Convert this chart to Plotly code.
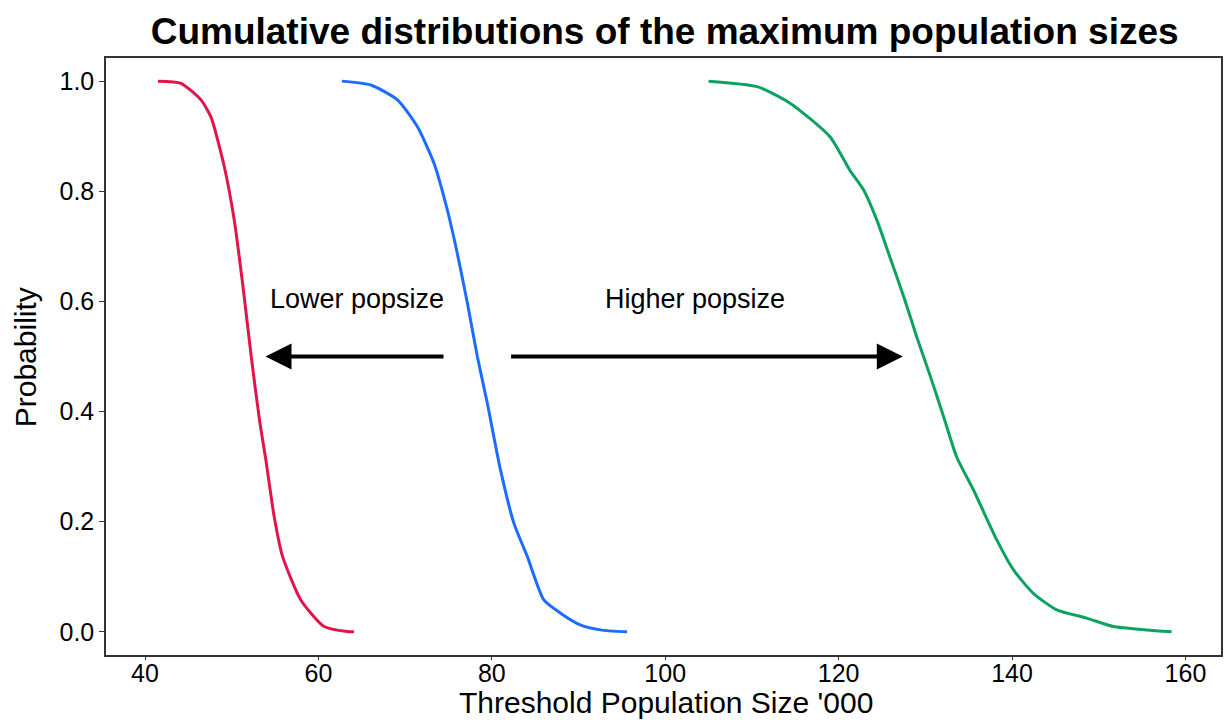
import plotly.graph_objects as go

# Red curve (lower popsize)
red_x = [41.5, 44.15, 46.45, 47.6, 49.14, 50.29, 51.3, 52.25, 53.2, 53.94, 54.9, 55.86, 57.97, 60.66, 63.3, 64.1]
red_y = [1.0, 0.996, 0.966, 0.935, 0.845, 0.748, 0.627, 0.5, 0.385, 0.312, 0.209, 0.137, 0.058, 0.0096, 0.0005, 0.0]

# Blue curve (baseline)
blue_x = [62.7, 66.04, 69.11, 71.42, 73.33, 74.87, 76.02, 77.18, 78.33, 79.48, 81.0, 82.55, 84.09, 86.0, 87.93, 90.2, 92.5, 95.6]
blue_y = [1.0, 0.993, 0.966, 0.917, 0.851, 0.766, 0.687, 0.597, 0.5, 0.415, 0.294, 0.197, 0.137, 0.058, 0.034, 0.0127, 0.0036, 0.0]

# Green curve (higher popsize)
green_x = [105.0, 110.6, 114.4, 119.0, 121.3, 122.9, 124.4, 125.9, 127.5, 129.0, 130.6, 132.1, 133.6,
           135.54, 138.24, 140.15, 142.45, 145.15, 148.6, 151.67, 155.5, 158.4]
green_y = [1.0, 0.99, 0.96, 0.899, 0.838, 0.802, 0.748, 0.681, 0.609, 0.536, 0.463, 0.391, 0.318,
           0.258, 0.167, 0.113, 0.070, 0.040, 0.025, 0.0096, 0.0036, 0.0]

x_ticks = [40, 60, 80, 100, 120, 140, 160]
y_ticks = [0.0, 0.2, 0.4, 0.6, 0.8, 1.0]

fig = go.Figure()
for xs, ys, col in [(red_x, red_y, "#E0154B"), (blue_x, blue_y, "#1B6CFF"), (green_x, green_y, "#0CA262")]:
    fig.add_trace(go.Scatter(x=xs, y=ys, mode="lines", line=dict(color=col, width=3, shape="spline", smoothing=0.6),
                             showlegend=False, hoverinfo="skip"))

font_family = "Liberation Sans, Arial, sans-serif"

fig.update_layout(
    width=1224, height=720,
    margin=dict(l=106, r=1, t=58, b=65),
    paper_bgcolor="white", plot_bgcolor="white",
    font=dict(family=font_family, color="black"),
    title=dict(text="<b>Cumulative distributions of the maximum population sizes</b>",
               x=0.543, xanchor="center", y=0.957, yanchor="middle",
               font=dict(size=37, family=font_family, color="black")),
    xaxis=dict(range=[35.5, 164.1], tickvals=x_ticks, ticks="outside", ticklen=3, tickcolor="#333",
               ticklabelstandoff=-8,
               showline=True, linecolor="#333", linewidth=1.5, mirror=True, showgrid=False, zeroline=False,
               tickfont=dict(size=25)),
    yaxis=dict(range=[-0.042, 1.042], tickvals=y_ticks, tickformat=".1f", ticks="outside", ticklen=5, tickcolor="#333",
               showline=True, linecolor="#333", linewidth=1.5, mirror=True, showgrid=False, zeroline=False,
               tickfont=dict(size=25)),
)

# axis titles as annotations for precise placement
fig.add_annotation(x=0.502, y=-0.0796, xref="paper", yref="paper", text="Threshold Population Size '000",
                   showarrow=False, xanchor="center", yanchor="middle", font=dict(size=30, color="black"))
fig.add_annotation(x=-0.0725, y=0.499, xref="paper", yref="paper", text="Probability", textangle=-90,
                   showarrow=False, xanchor="center", yanchor="middle", font=dict(size=30, color="black"))

# arrows
fig.add_annotation(x=53.9, y=0.5, ax=74.6, ay=0.5, xref="x", yref="y", axref="x", ayref="y",
                   showarrow=True, arrowhead=2, arrowsize=1.3, arrowwidth=4, arrowcolor="black", text="")
fig.add_annotation(x=127.4, y=0.5, ax=82.05, ay=0.5, xref="x", yref="y", axref="x", ayref="y",
                   showarrow=True, arrowhead=2, arrowsize=1.3, arrowwidth=4, arrowcolor="black", text="")
fig.add_annotation(x=64.5, y=0.604, xref="x", yref="y", text="Lower popsize", showarrow=False,
                   font=dict(size=27, color="black"))
fig.add_annotation(x=103.4, y=0.604, xref="x", yref="y", text="Higher popsize", showarrow=False,
                   font=dict(size=27, color="black"))

fig.write_html("out.html")
